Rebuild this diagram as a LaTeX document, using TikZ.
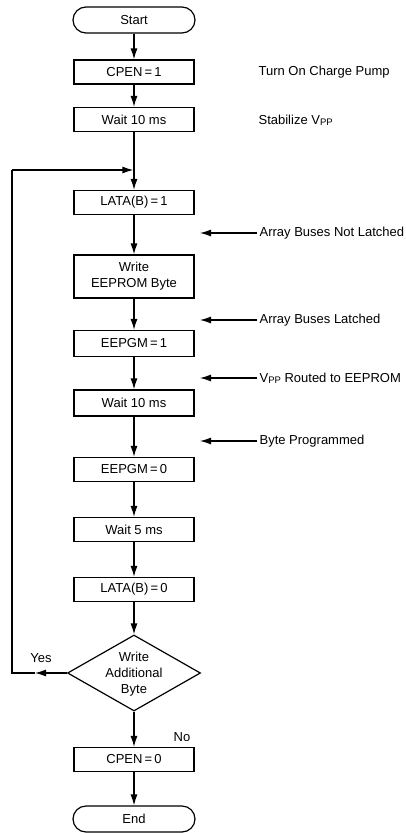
\documentclass[tikz,border=0pt]{standalone}
\usepackage{fontspec}
\setmainfont{Liberation Sans}
\usetikzlibrary{arrows.meta,shapes.geometric}
\begin{document}
\begin{tikzpicture}[x=1pt,y=-1pt,
  font=\fontsize{13}{16}\selectfont,
  line width=1.2pt,
  tip/.style={-{Latex[length=11pt,width=7pt]}},
  stepbox/.style={draw,rectangle,minimum width=120pt,minimum height=24pt,inner sep=0pt,align=center},
  term/.style={draw,rectangle,rounded corners=13pt,minimum width=122pt,minimum height=26pt,inner sep=0pt},
  note/.style={anchor=west,inner sep=0pt}]
\useasboundingbox (0,0) rectangle (406,833);
\newcommand{\vpp}{V\raisebox{-1.2pt}{\fontsize{9.5}{9.5}\selectfont PP}}
% main column
\node[term] (start) at (134,20) {Start};
\node[stepbox] (cpen1) at (134,72) {CPEN\,=\,1};
\node[stepbox] (wait1) at (134,119.5) {Wait 10 ms};
\node[stepbox] (lata1) at (134,202.5) {LATA(B)\,=\,1};
\node[stepbox,minimum height=43pt] (write) at (134,276.5) {Write\\EEPROM Byte};
\node[stepbox,minimum height=26pt] (eepgm1) at (134,343.5) {EEPGM\,=\,1};
\node[stepbox,minimum height=26pt] (wait2) at (134,403) {Wait 10 ms};
\node[stepbox] (eepgm0) at (134,469.5) {EEPGM\,=\,0};
\node[stepbox] (wait3) at (134,529.5) {Wait 5 ms};
\node[stepbox] (lata0) at (134,589.5) {LATA(B)\,=\,0};
\node[diamond,draw,minimum width=133pt,minimum height=76pt,inner sep=0pt] (dia) at (134,673) {};
\node[align=center,inner sep=0pt] (diatext) at (134,674) {Write\\Additional\\Byte};
\node[stepbox] (cpen0) at (134,759.5) {CPEN\,=\,0};
\node[term] (end) at (134,819) {End};
% connectors
\draw[tip] (start) -- (cpen1);
\draw[tip] (cpen1) -- (wait1);
\draw[tip] (wait1) -- (lata1);
\draw[tip] (lata1) -- (write);
\draw[tip] (write) -- (eepgm1);
\draw[tip] (eepgm1) -- (wait2);
\draw[tip] (wait2) -- (eepgm0);
\draw[tip] (eepgm0) -- (wait3);
\draw[tip] (wait3) -- (lata0);
\draw[tip] (lata0) -- (dia);
\draw[tip] (dia) -- (cpen0);
\draw[tip] (cpen0) -- (end);
% loop back
\coordinate (yesmid) at (35,673);
\coordinate (loopL) at (12,673);
\coordinate (loopT) at (12,170);
\coordinate (join) at (133.4,170);
\draw[tip] (dia.west) -- (yesmid);
\draw (yesmid) -- (loopL) -- (loopT);
\draw[tip] (loopT) -- (join);
\node (yes) at (41,658) {Yes};
\node (no) at (182,737) {No};
% notes
\node[note] (n1) at (258,72) {Turn On Charge Pump};
\node[note] (n2) at (258,120) {Stabilize \vpp};
\node[note] (n3) at (259,233) {Array Buses Not Latched};
\node[note] (n4) at (259,320) {Array Buses Latched};
\node[note] (n5) at (259,378) {\vpp{} Routed to EEPROM};
\node[note] (n6) at (259,441) {Byte Programmed};
\coordinate (a3) at (200,233);
\coordinate (a4) at (200,320);
\coordinate (a5) at (200,378);
\coordinate (a6) at (200,441);
\draw[tip] (n3.west) ++(-2,0) -- (a3);
\draw[tip] (n4.west) ++(-2,0) -- (a4);
\draw[tip] (n5.west) ++(-2,0) -- (a5);
\draw[tip] (n6.west) ++(-2,0) -- (a6);
\end{tikzpicture}
\end{document}
